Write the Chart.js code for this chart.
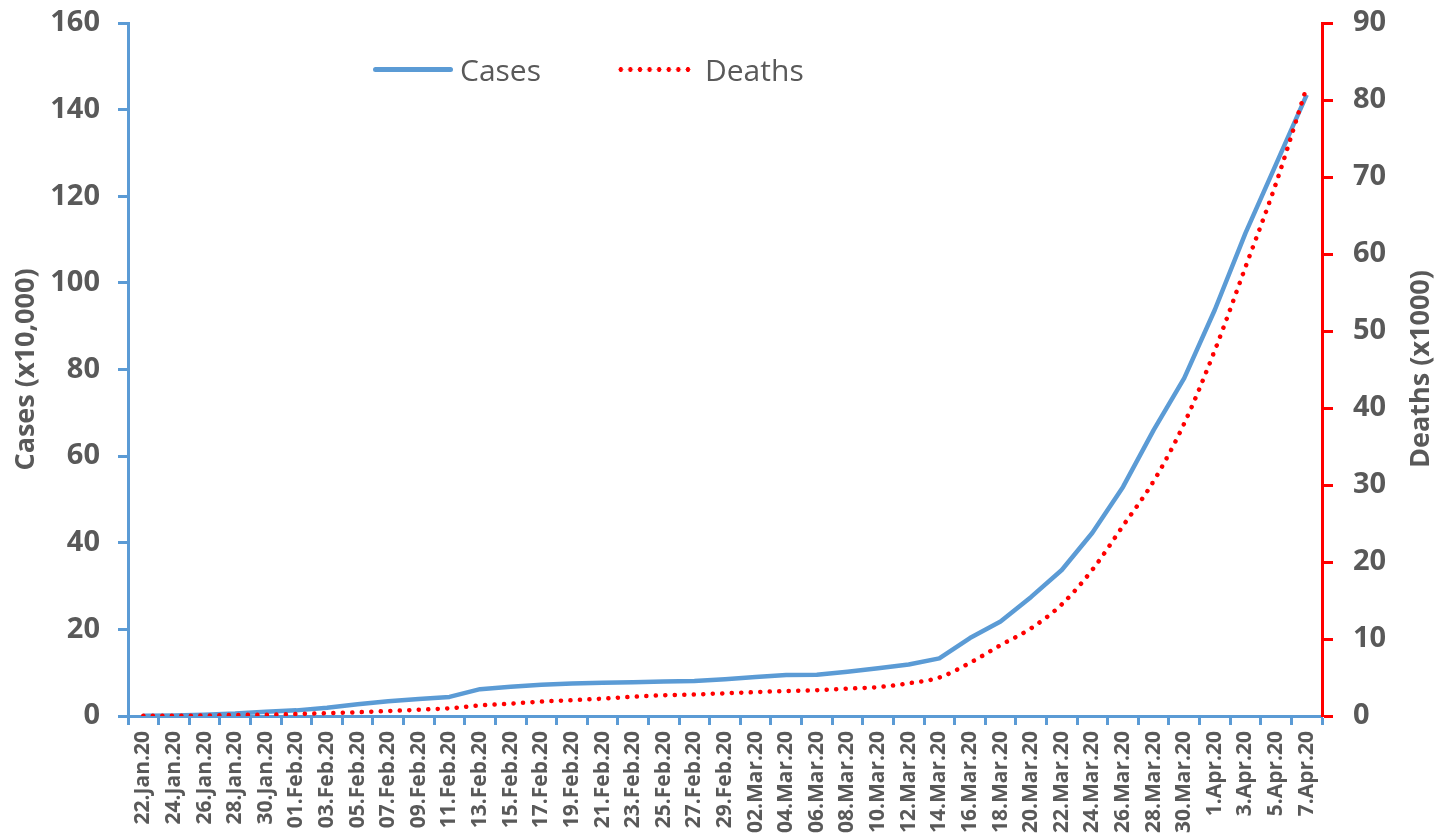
<!DOCTYPE html>
<html>
<head>
<meta charset="utf-8">
<script src="https://cdn.jsdelivr.net/npm/chart.js@4/dist/chart.umd.min.js"></script>
<style>
    body { margin: 0; background: #fff; }
    #wrap { position: relative; width: 1446px; height: 833px; }
    .legend { position: absolute; top: 49px; font-family: "Open Sans", sans-serif; font-size: 30px; color: #595959; display: flex; align-items: center; }
    .legend .swatch { display: inline-block; width: 80px; margin-right: 7px; }
    #legCases { left: 373px; }
    #legCases .swatch { border-top: 5px solid #5B9BD5; border-radius: 3px; }
    #legDeaths { left: 616px; }
    #legDeaths .swatch { width: 78px; height: 5px; background: radial-gradient(circle, #FF0000 2.2px, transparent 2.6px) 0 0 / 9.6px 5px repeat-x; margin-right: 11px; }
</style>
</head>
<body>
<div id="wrap">
    <canvas id="chart" width="1446" height="833"></canvas>
    <div class="legend" id="legCases"><span class="swatch"></span>Cases</div>
    <div class="legend" id="legDeaths"><span class="swatch"></span>Deaths</div>
</div>
<script>
// data (every 2nd day)
const dates = ['22.Jan.20', '24.Jan.20', '26.Jan.20', '28.Jan.20', '30.Jan.20',
    '01.Feb.20', '03.Feb.20', '05.Feb.20', '07.Feb.20', '09.Feb.20', '11.Feb.20', '13.Feb.20', '15.Feb.20',
    '17.Feb.20', '19.Feb.20', '21.Feb.20', '23.Feb.20', '25.Feb.20', '27.Feb.20', '29.Feb.20',
    '02.Mar.20', '04.Mar.20', '06.Mar.20', '08.Mar.20', '10.Mar.20', '12.Mar.20', '14.Mar.20', '16.Mar.20',
    '18.Mar.20', '20.Mar.20', '22.Mar.20', '24.Mar.20', '26.Mar.20', '28.Mar.20', '30.Mar.20',
    '1.Apr.20', '3.Apr.20', '5.Apr.20', '7.Apr.20'];

// cases in units of 10,000
const cases = [0.06, 0.1, 0.28, 0.55, 0.98, 1.3, 1.9, 2.7, 3.4, 3.95, 4.4, 6.2, 6.75, 7.2, 7.5, 7.65,
    7.8, 7.95, 8.1, 8.5, 9.0, 9.45, 9.55, 10.2, 11.0, 11.9, 13.3, 18.0, 21.8, 27.5, 33.7, 42.3,
    52.9, 66.0, 78.0, 93.8, 111.5, 127.4, 143.4];

// deaths in units of 1000
const deaths = [0.02, 0.03, 0.06, 0.13, 0.17, 0.26, 0.36, 0.49, 0.64, 0.81, 1.0, 1.37, 1.6, 1.87,
    2.05, 2.25, 2.5, 2.7, 2.8, 2.95, 3.1, 3.25, 3.35, 3.55, 3.75, 4.25, 5.0, 6.9, 9.2, 11.4, 14.5,
    19.0, 24.7, 30.5, 38.0, 47.5, 58.3, 69.2, 81.7];

const casesTicks = [0, 20, 40, 60, 80, 100, 120, 140, 160];
const deathsTicks = [0, 10, 20, 30, 40, 50, 60, 70, 80, 90];

const grey = '#595959';
const blue = '#5B9BD5';
const red = '#FF0000';
const font = 'Open Sans';

// right title reads bottom-to-top, so draw it by hand
const rightTitle = {
    id: 'rightTitle',
    afterDraw(chart) {
        const ctx = chart.ctx;
        ctx.save();
        ctx.translate(1421, 369);
        ctx.rotate(-Math.PI / 2);
        ctx.font = 'bold 27px "' + font + '"';
        ctx.fillStyle = grey;
        ctx.textAlign = 'center';
        ctx.textBaseline = 'middle';
        ctx.fillText('Deaths (x1000)', 0, 0);
        ctx.restore();
    }
};

new Chart(document.getElementById('chart'), {
    type: 'line',
    data: {
        labels: dates,
        datasets: [
            {
                label: 'Deaths',
                data: deaths,
                yAxisID: 'y1',
                borderColor: red,
                borderWidth: 4.5,
                borderCapStyle: 'round',
                borderDash: [0.1, 9.4],
                cubicInterpolationMode: 'monotone',
                pointRadius: 0,
                fill: false,
                order: 0
            },
            {
                label: 'Cases',
                data: cases,
                yAxisID: 'y',
                borderColor: blue,
                borderWidth: 4.5,
                borderJoinStyle: 'round',
                tension: 0,
                pointRadius: 0,
                fill: false,
                order: 1
            }
        ]
    },
    options: {
        responsive: false,
        animation: false,
        layout: { padding: { top: 0, right: 0, left: 0, bottom: 0 } },
        plugins: { legend: { display: false }, tooltip: { enabled: false } },
        scales: {
            x: {
                offset: true,
                grid: { offset: true, drawOnChartArea: false, drawTicks: true, tickLength: 9, tickWidth: 3, tickColor: blue },
                border: { color: blue, width: 3 },
                ticks: {
                    autoSkip: false, maxRotation: 90, minRotation: 90, padding: 6,
                    color: grey, font: { family: font, size: 21, weight: 'bold' }
                },
                afterFit(scale) { scale.height = 117; }
            },
            y: {
                position: 'left',
                min: 0, max: 160,
                afterBuildTicks(scale) { scale.ticks = casesTicks.map(v => ({ value: v })); },
                grid: { drawOnChartArea: false, drawTicks: true, tickLength: 10, tickWidth: 3, tickColor: blue },
                border: { color: blue, width: 3 },
                ticks: { padding: 18, color: grey, font: { family: font, size: 29, weight: 'bold' } },
                title: {
                    display: true, text: 'Cases (x10,000)', color: grey,
                    font: { family: font, size: 27, weight: 'bold' }, padding: { top: 10, bottom: 0 }
                },
                afterFit(scale) { scale.width = 128; scale.paddingTop = 23; scale.paddingBottom = 0; }
            },
            y1: {
                position: 'right',
                min: 0, max: 90,
                afterBuildTicks(scale) { scale.ticks = deathsTicks.map(v => ({ value: v })); },
                grid: { drawOnChartArea: false, drawTicks: true, tickLength: 11, tickWidth: 3, tickColor: red },
                border: { color: red, width: 3 },
                ticks: { padding: 20, color: grey, font: { family: font, size: 29, weight: 'bold' } },
                afterFit(scale) { scale.width = 124; scale.paddingTop = 23; scale.paddingBottom = 0; }
            }
        }
    },
    plugins: [rightTitle]
});
</script>
</body>
</html>
